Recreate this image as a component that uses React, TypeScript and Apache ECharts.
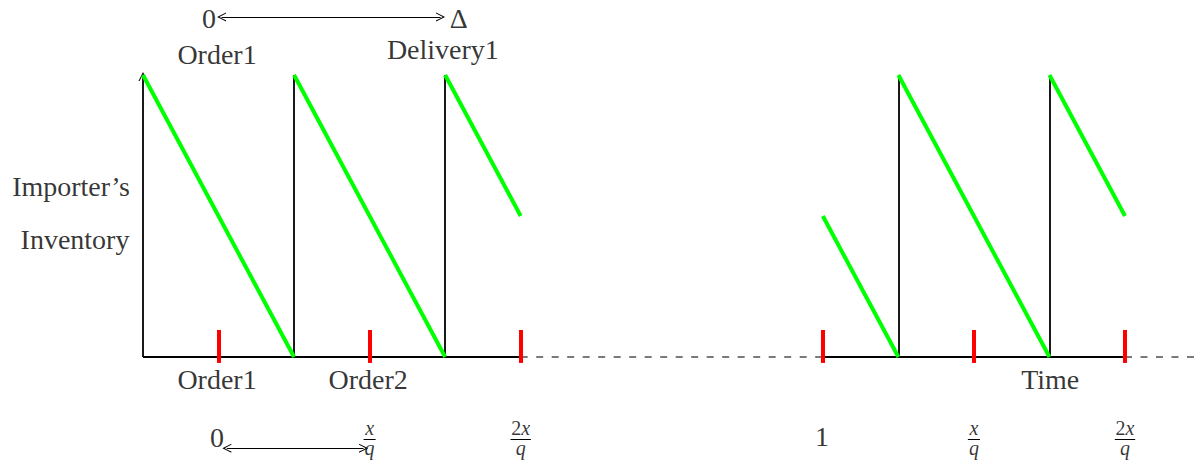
import React, { useEffect, useRef } from 'react';
import * as echarts from 'echarts';

// Inventory saw-tooth segments (time units: one review tick per unit)
const sawStartX = [0, 2, 4, 9, 10, 12];
const sawEndX = [2, 4, 5, 10, 12, 13];
const sawStartLevel = [1, 1, 1, 0.5, 1, 1];
const sawEndLevel = [0, 0, 0.5, 0, 0, 0.5];
// Replenishment jumps
const replenishX = [2, 4, 10, 12];
// Red review ticks
const reviewX = [1, 3, 5, 9, 11, 13];
const tickLow = -0.021;
const tickHigh = 0.096;
// Time axis pieces
const solidFrom = [0, 9];
const solidTo = [5, 13];
const dashedFrom = [5, 13];
const dashedTo = [9, 13.94];
// Plain text annotations
const textLabels = ['0', 'Δ', 'Order1', 'Delivery1', 'Importer’s', 'Inventory', 'Order1', 'Order2', 'Time', '0', '1'];
const textX = [0.874, 4.18, 0.98, 3.97, -0.953, -0.9, 0.98, 2.98, 12.01, 0.98, 8.99];
const textY = [1.199, 1.199, 1.074, 1.092, 0.603, 0.418, -0.078, -0.078, -0.078, -0.284, -0.28];
// Fractions on bottom
const fracX = [3, 5, 11, 13];
const fracNum = ['x', '2x', 'x', '2x'];
const fracDen = ['q', 'q', 'q', 'q'];
const fracY = -0.287;
const fracBarY = -0.291;
// Double arrows
const arrowFromX = [1.04, 1.11];
const arrowToX = [3.94, 2.92];
const arrowY = [1.206, -0.323];

const X_MIN = -1.893;
const X_MAX = 13.94;
const Y_MIN = -0.397;
const Y_MAX = 1.266;

const ARROW = 'path://M0 10 Q2.5 5 5 0 Q7.5 5 10 10 L8.8 10 Q6.8 6 5 2.6 Q3.2 6 1.2 10 Z';
const FONT = '"Liberation Serif", "Times New Roman", serif';

function richPart(s: string) {
  return s
    .split('')
    .map((c) => (/[0-9]/.test(c) ? `{u|${c}}` : `{i|${c}}`))
    .join('');
}

export default function App() {
  const ref = useRef<HTMLDivElement>(null);
  useEffect(() => {
    if (!ref.current) return;
    const chart = echarts.init(ref.current, undefined, { renderer: 'svg' });

    const seg = (x1: number, y1: number, x2: number, y2: number) => ({ coords: [[x1, y1], [x2, y2]] });

    const greenData = sawStartX.map((x, i) => seg(x, sawStartLevel[i], sawEndX[i], sawEndLevel[i]));
    const verticalData = replenishX.map((x) => seg(x, 0, x, 1));
    const tickData = reviewX.map((x) => seg(x, tickLow, x, tickHigh));
    const solidData = solidFrom.map((x, i) => seg(x, 0, solidTo[i], 0));
    const dashedData = dashedFrom.map((x, i) => seg(x, 0, dashedTo[i], 0));
    const arrowData = arrowFromX.map((x, i) => seg(x, arrowY[i], arrowToX[i], arrowY[i]));
    const barData = fracX.map((x, i) => {
      const hw = fracNum[i].length > 1 ? 0.135 : 0.08;
      return seg(x - hw, fracBarY, x + hw, fracBarY);
    });

    const textStyle = { fontFamily: FONT, fontSize: 28, color: '#000' };
    const richFrac = {
      u: { fontFamily: FONT, fontSize: 20, color: '#000', lineHeight: 20 },
      i: { fontFamily: FONT, fontSize: 20, fontStyle: 'italic', color: '#000', lineHeight: 20 },
    };

    const labelScatter = (data: any[], label: any) => ({
      type: 'scatter',
      symbol: 'circle',
      symbolSize: 1,
      itemStyle: { color: 'rgba(0,0,0,0)' },
      silent: true,
      data,
      label: { show: true, position: 'inside', ...label },
    });

    chart.setOption({
      animation: false,
      backgroundColor: '#fff',
      grid: { left: 0, right: 0, top: 0, bottom: 0 },
      xAxis: { type: 'value', min: X_MIN, max: X_MAX, show: false },
      yAxis: { type: 'value', min: Y_MIN, max: Y_MAX, show: false },
      series: [
        {
          type: 'lines',
          coordinateSystem: 'cartesian2d',
          data: dashedData,
          lineStyle: { color: '#7a7a7a', width: 2, type: [7, 8.5], opacity: 1 },
          symbol: 'none',
        },
        {
          type: 'lines',
          coordinateSystem: 'cartesian2d',
          data: solidData,
          lineStyle: { color: '#000', width: 2.2, opacity: 1 },
          symbol: 'none',
        },
        {
          type: 'lines',
          coordinateSystem: 'cartesian2d',
          data: verticalData,
          lineStyle: { color: '#000', width: 1.8, opacity: 1 },
          symbol: 'none',
        },
        {
          type: 'lines',
          coordinateSystem: 'cartesian2d',
          data: [seg(0, 0, 0, 0.995)],
          lineStyle: { color: '#000', width: 1.8, opacity: 1 },
          symbol: ['none', ARROW],
          symbolSize: 9,
        },
        {
          type: 'lines',
          coordinateSystem: 'cartesian2d',
          data: arrowData,
          lineStyle: { color: '#000', width: 1, opacity: 1 },
          symbol: [ARROW, ARROW],
          symbolSize: 9,
        },
        {
          type: 'lines',
          coordinateSystem: 'cartesian2d',
          data: barData,
          lineStyle: { color: '#000', width: 1, opacity: 1 },
          symbol: 'none',
        },
        {
          type: 'lines',
          coordinateSystem: 'cartesian2d',
          data: greenData,
          lineStyle: { color: '#00ff00', width: 4, opacity: 1 },
          symbol: 'none',
        },
        {
          type: 'lines',
          coordinateSystem: 'cartesian2d',
          data: tickData,
          lineStyle: { color: '#ff0000', width: 4, opacity: 1 },
          symbol: 'none',
        },
        labelScatter(
          textLabels.map((t, i) => ({ name: t, value: [textX[i], textY[i]] })),
          { formatter: '{b}', ...textStyle }
        ),
        labelScatter(
          fracNum.map((t, i) => ({ name: t, value: [fracX[i], fracY] })),
          {
            formatter: (p: any) => richPart(fracNum[p.dataIndex]) + '\n' + richPart(fracDen[p.dataIndex]),
            rich: richFrac,
            lineHeight: 20,
          }
        ),
      ],
    });
    return () => chart.dispose();
  }, []);

  return (
    <div
      ref={ref}
      style={{ position: 'absolute', left: 0, top: 0, width: 1196, height: 469, background: '#fff' }}
    />
  );
}
